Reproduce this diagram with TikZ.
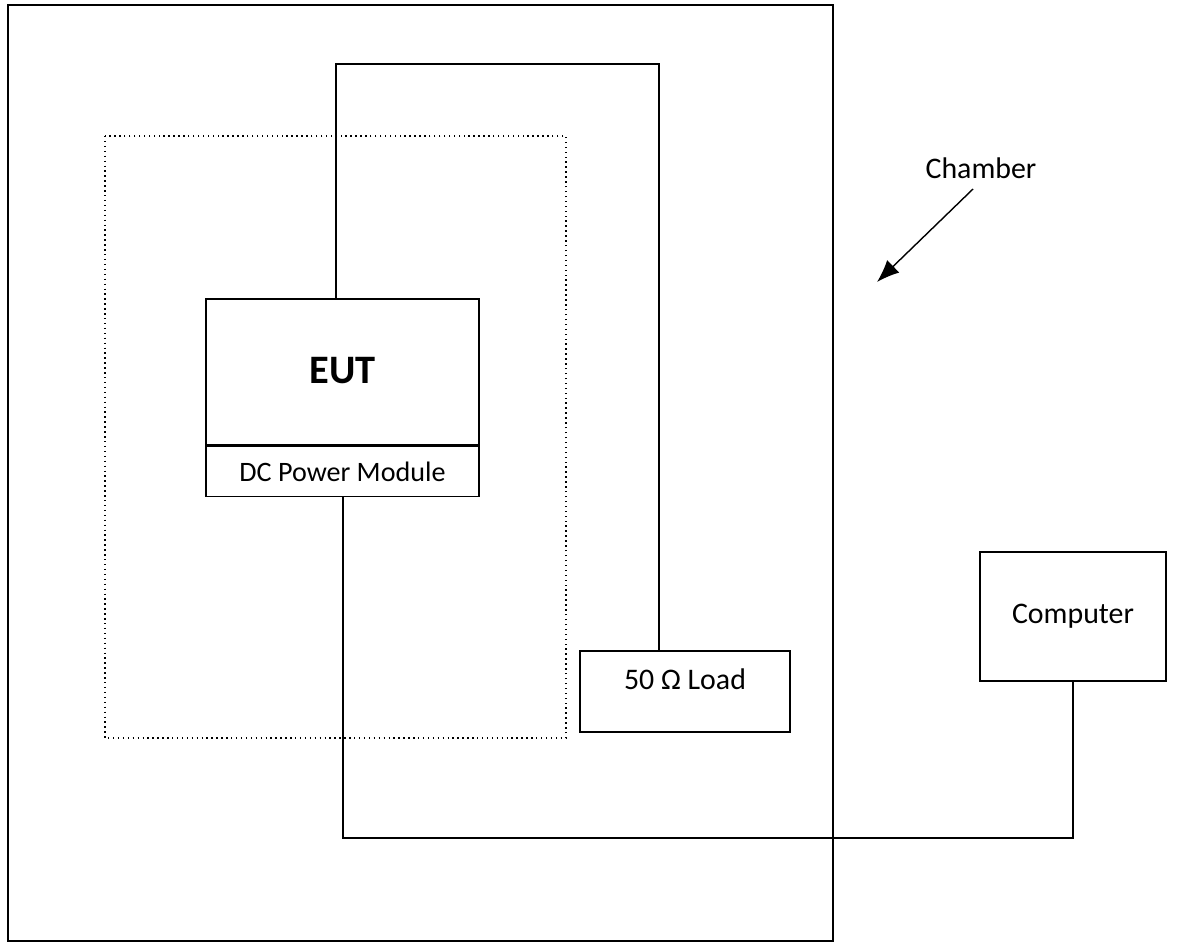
\documentclass[tikz,border=0pt]{standalone}
\usepackage{fontspec}
\setmainfont{Carlito}
\usetikzlibrary{positioning, arrows.meta}

\begin{document}
\begin{tikzpicture}[
    x=0.02cm, y=-0.02cm,
    box/.style={rectangle, draw, line width=0.8pt, inner sep=0pt, font=\fontsize{17}{19}\selectfont},
    wire/.style={line width=0.8pt},
    zone/.style={draw, line width=0.8pt, dotted},
]
\useasboundingbox (0,0) rectangle (1182,947);

% Chamber and table
\draw[line width=0.8pt] (8,5) rectangle (833,941);
\draw[zone] (105,136) rectangle (566,738);

% Boxes
\node[box, minimum width=5.46cm, minimum height=2.92cm, text depth=0.08cm, font=\fontsize{23}{26}\selectfont\bfseries] (eut) at (342.5,372) {EUT};
\node[box, minimum width=5.46cm, minimum height=1.0cm, below=0pt of eut, font=\fontsize{16}{18}\selectfont] (dcm) {DC Power Module};
\node[box, minimum width=4.2cm, minimum height=1.62cm, text depth=0.5cm] (load) at (685,691.5) {50 Ω Load};
\node[box, minimum width=3.72cm, minimum height=2.58cm] (computer) at (1073,616.5) {Computer};

% Chamber label
\node[font=\fontsize{17}{19}\selectfont] (chamber) at (981,168) {Chamber};
\coordinate (tip) at (877,282);
\draw[line width=0.8pt, -{Latex[length=4.5mm, width=3.5mm]}] (973,189) -- (tip);

% Wiring
\coordinate (tl) at (336,64);
\coordinate (tr) at (659,64);
\draw[wire] (tl |- eut.north) -- (tl) -- (tr) -- (tr |- load.north);

\coordinate (bl) at (343,838);
\coordinate (br) at (1073,838);
\draw[wire] (bl |- dcm.south) -- (bl) -- (br) -- (computer.south);

\end{tikzpicture}
\end{document}
